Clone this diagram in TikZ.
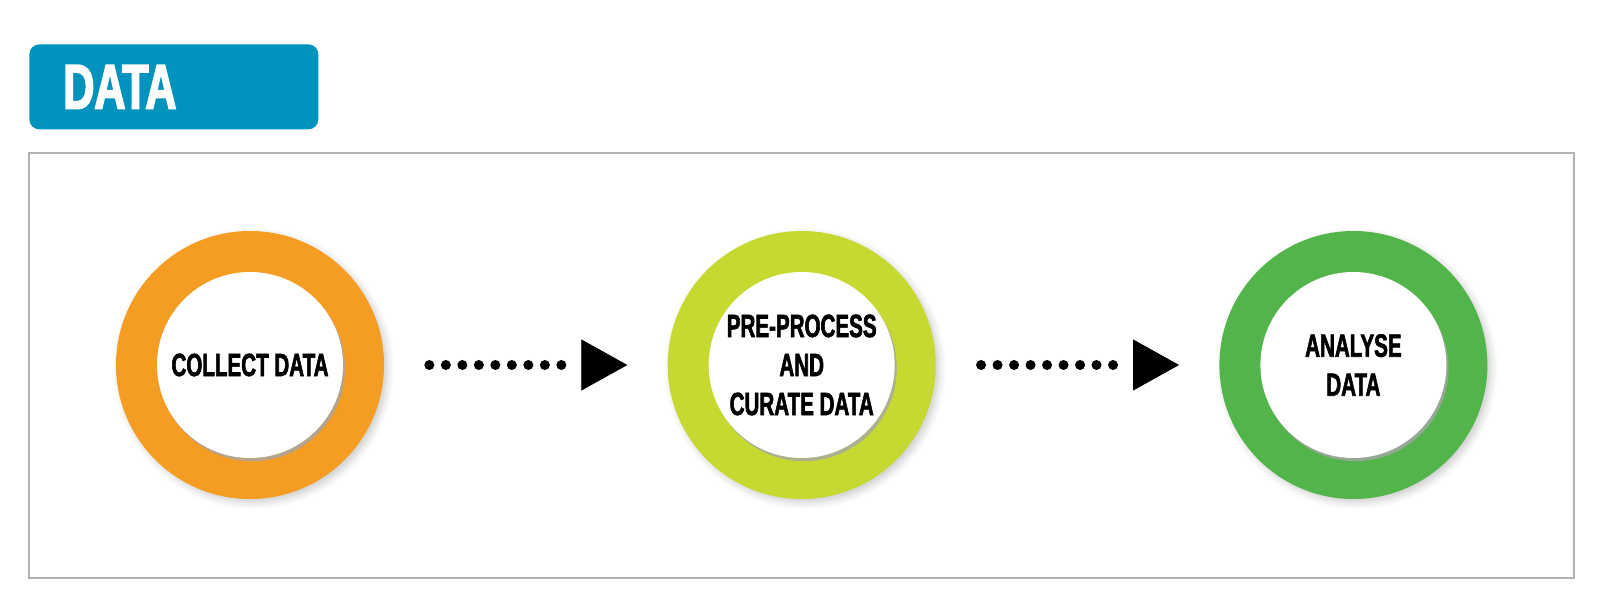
\documentclass[tikz,border=0pt]{standalone}
\usepackage{fontspec}
\usepackage{tikz}
\usetikzlibrary{calc,positioning,arrows.meta,shadows,shadows.blur,decorations.markings}

\newfontfamily\titlefont{Liberation Sans}[FakeStretch=0.68, BoldFeatures={FakeBold=2.5}]
\newfontfamily\stepfont{Liberation Sans}[FakeStretch=0.64, BoldFeatures={FakeBold=1.8}]
\definecolor{titleblue}{RGB}{0,147,189}
\definecolor{ringorange}{RGB}{245,156,35}
\definecolor{ringlime}{RGB}{198,217,48}
\definecolor{ringgreen}{RGB}{82,180,74}

\begin{document}
\begin{tikzpicture}[
    title_box/.style={fill=titleblue, rounded corners=0.2cm, text=white, minimum height=1.7cm, text width=4.42cm, inner xsep=0.68cm, inner ysep=0pt, align=left, font={\titlefont\bfseries\fontsize{36pt}{40pt}\selectfont}},
    frame_box/.style={draw=black!30, line width=0.6pt},
    ring/.style={circle, minimum size=5.36cm, inner sep=0pt, blur shadow={shadow xshift=2pt, shadow yshift=-2pt, shadow opacity=20, shadow blur radius=4pt}},
    core/.style={circle, fill=white, minimum size=3.72cm, inner sep=0pt, align=center, font={\stepfont\bfseries\fontsize{18.3pt}{22.2pt}\selectfont}, drop shadow={shadow xshift=1.2pt, shadow yshift=-1.8pt, fill=black!35, opacity=0.8}},
    flow_dots/.style={postaction={decorate}, decoration={markings, mark=between positions 0.9cm and 3.6cm step 0.33cm with {\fill (0,0) circle (0.1cm);}}},
    flow_tip/.style={line width=0.4pt, shorten <=3.95cm, shorten >=0.8cm, -{Triangle[length=0.92cm, width=1.02cm]}},
    scale=1.0
]
    \useasboundingbox (0,0) rectangle (32,-12.16);

    % Title tab
    \node[title_box, anchor=north west] (title) at (0.58,-0.88) {DATA};
    \draw[frame_box] (0.58,-3.06) rectangle (31.48,-11.56);

    % Three steps
    \node[ring, fill=ringorange] (collect) at (5.0,-7.3) {};
    \node[ring, fill=ringlime, right=5.66cm of collect] (curate) {};
    \node[ring, fill=ringgreen, right=5.66cm of curate] (analyse) {};

    \node[core] (collect_txt) at (collect) {COLLECT DATA};
    \node[core] (curate_txt) at (curate) {PRE-PROCESS\\AND\\CURATE DATA};
    \node[core] (analyse_txt) at (analyse) {ANALYSE\\DATA};

    % Arrows: dotted run, then the head
    \path[flow_dots] (collect) -- (curate);
    \draw[flow_tip] (collect) -- (curate);
    \path[flow_dots] (curate) -- (analyse);
    \draw[flow_tip] (curate) -- (analyse);
\end{tikzpicture}
\end{document}
